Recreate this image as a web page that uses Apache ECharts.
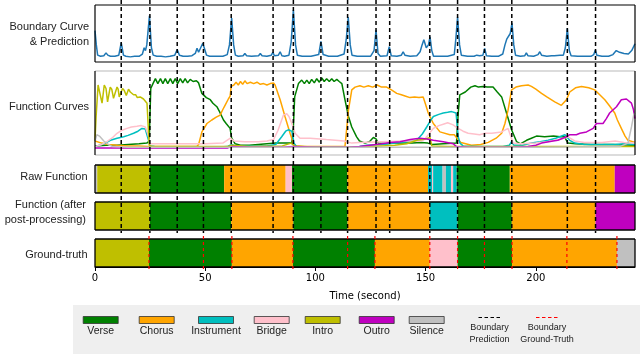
<!DOCTYPE html>
<html><head><meta charset="utf-8">
<script src="https://cdn.jsdelivr.net/npm/echarts/dist/echarts.min.js"></script>
<style>html,body{margin:0;padding:0;background:#fff}#c{width:640px;height:354px}</style>
</head><body><div id="c"></div>
<script>
// ---------------- DATA ----------------
const classNames = ['Verse','Chorus','Instrument','Bridge','Intro','Outro','Silence'];
const classColors = ['#008000','#FFA500','#00BFBF','#FFC0CB','#BFBF00','#BF00BF','#C0C0C0'];
const timeMax = 245;
const timeTicks = [0,50,100,150,200];

const boundaryCurve = [[0,0.55],[0.6,0.3],[1.2,0.12],[2.5,0.1],[4,0.11],[5,0.16],[5.8,0.12],[7,0.1],[9,0.1],[10.8,0.12],[11.9,0.34],[12.9,0.12],[14,0.1],[16,0.09],[18,0.1],[20,0.1],[21.5,0.14],[22.3,0.25],[22.9,0.2],[23.5,0.3],[24.7,0.81],[25.6,0.25],[26.4,0.12],[28,0.1],[30,0.1],[32,0.09],[34,0.1],[36.2,0.12],[37.3,0.22],[38.3,0.12],[40,0.1],[42,0.1],[44,0.11],[45.5,0.15],[46.3,0.24],[47,0.17],[47.8,0.2],[48.9,0.33],[49.8,0.22],[50.6,0.12],[52,0.1],[55,0.1],[58,0.1],[60,0.13],[61,0.3],[62,0.77],[62.9,0.3],[63.7,0.12],[65,0.1],[67.2,0.11],[68,0.15],[68.8,0.11],[71,0.1],[74.2,0.11],[75,0.15],[75.8,0.11],[78,0.1],[80,0.12],[80.7,0.17],[81.4,0.11],[83.2,0.12],[84,0.18],[84.8,0.11],[86,0.1],[88,0.12],[89,0.35],[90,0.91],[91,0.3],[91.8,0.12],[94,0.1],[98,0.1],[101.5,0.13],[102.5,0.36],[103.5,0.13],[106,0.1],[110,0.1],[113,0.14],[114,0.4],[114.9,0.79],[115.8,0.3],[116.6,0.12],[119,0.1],[122,0.1],[125,0.1],[126.6,0.2],[127.5,0.56],[128.4,0.15],[129.5,0.1],[132.5,0.11],[133.5,0.27],[134.4,0.11],[137,0.1],[139,0.12],[139.8,0.18],[140.6,0.12],[143,0.1],[146,0.11],[147.5,0.18],[148.4,0.3],[149.2,0.39],[150.3,0.25],[151.3,0.3],[152,0.44],[152.8,0.2],[153.6,0.1],[157,0.1],[160,0.1],[163,0.13],[163.7,0.4],[164.5,0.79],[165.4,0.3],[166.2,0.12],[169,0.1],[172,0.1],[173.2,0.12],[173.8,0.14],[174.5,0.11],[176,0.12],[176.8,0.24],[177.6,0.11],[180,0.1],[183,0.1],[185,0.14],[186,0.3],[186.8,0.4],[188.4,0.5],[189.2,0.68],[190,0.3],[190.8,0.12],[193,0.1],[195,0.11],[195.7,0.16],[196.4,0.11],[199,0.1],[201,0.13],[201.8,0.18],[202.6,0.12],[205,0.1],[207.2,0.11],[207.8,0.14],[208.4,0.11],[211,0.12],[211.6,0.15],[212.5,0.12],[213.4,0.25],[214.3,0.59],[215.2,0.2],[216,0.11],[219,0.1],[222,0.1],[225,0.1],[226.3,0.13],[227,0.21],[227.7,0.12],[230,0.1],[233,0.1],[235,0.13],[236.5,0.2],[238,0.17],[240,0.15],[242,0.14],[243.5,0.2],[245,0.32]];

const verseCurve = [[0,0.03],[5,0.04],[10,0.04],[15,0.05],[20,0.06],[23.5,0.07],[24.6,0.1],[25.3,0.85],[26.3,0.92],[27.4,0.99],[28.5,0.92],[29.7,0.99],[30.8,0.92],[31.9,0.99],[33,0.92],[34.2,0.99],[35.3,0.92],[36.4,0.99],[37.5,0.92],[38.7,0.99],[39.8,0.93],[40.9,0.99],[42,0.93],[43.2,0.98],[44.5,0.95],[46,0.96],[47,0.93],[48.5,0.78],[50.5,0.72],[52.3,0.69],[53.5,0.64],[55.3,0.59],[56.5,0.52],[58.3,0.4],[59.5,0.35],[61.3,0.28],[62,0.14],[63.6,0.06],[66,0.04],[70,0.04],[74,0.05],[78,0.06],[82,0.07],[86,0.07],[89.3,0.07],[90,0.3],[90.6,0.73],[92.3,0.92],[93.8,0.97],[95,0.92],[96.1,0.97],[97.2,0.92],[98.3,0.98],[99.5,0.93],[100.6,0.99],[101.8,0.94],[102.9,1.0],[104,0.95],[105.1,0.99],[106.3,0.95],[107.4,0.99],[108.5,0.95],[109.7,0.98],[110.8,0.95],[112,0.92],[113.4,0.69],[115,0.45],[116.5,0.3],[118.7,0.16],[120,0.1],[122.5,0.07],[124.5,0.09],[126.3,0.15],[127.5,0.13],[128.5,0.07],[132,0.06],[136,0.07],[140,0.07],[144,0.07],[148,0.08],[151,0.07],[153,0.05],[158,0.06],[164,0.07],[164.8,0.5],[165.5,0.76],[168,0.8],[170.5,0.87],[172.4,0.89],[174,0.87],[176,0.88],[178,0.87],[180.6,0.87],[182.5,0.8],[184.5,0.73],[186.7,0.5],[189,0.26],[191.3,0.09],[193,0.06],[195.8,0.11],[198,0.14],[200.3,0.17],[204,0.16],[208,0.17],[211,0.16],[213,0.16],[214.6,0.07],[218,0.06],[225,0.05],[235,0.05],[245,0.04]];

const chorusCurve = [[0,0.1],[3,0.07],[6,0.05],[10,0.04],[15,0.03],[20,0.03],[24,0.02],[30,0.02],[40,0.02],[46.2,0.02],[47,0.05],[48.5,0.23],[50.8,0.35],[53,0.4],[55,0.44],[56.8,0.47],[58,0.55],[59,0.61],[60.5,0.7],[61.3,0.74],[61.8,0.88],[63,0.9],[64,0.94],[65,0.9],[66,0.95],[67,0.91],[68,0.96],[69,0.92],[70.5,0.94],[72,0.92],[73.5,0.94],[75,0.91],[76.5,0.92],[78,0.9],[79.5,0.92],[81,0.93],[81.7,0.9],[84,0.69],[86.2,0.45],[88.5,0.21],[90,0.07],[91,0.03],[95,0.02],[100,0.02],[105,0.02],[110,0.02],[113.4,0.02],[115,0.54],[116.5,0.83],[118,0.87],[120.2,0.89],[122,0.87],[124,0.89],[126,0.87],[128,0.9],[130,0.87],[132.3,0.87],[134.5,0.83],[136.9,0.78],[139,0.76],[141,0.74],[142.9,0.72],[145,0.73],[147,0.72],[148.9,0.73],[150,0.62],[151.2,0.5],[153.5,0.35],[156.5,0.23],[161,0.19],[163,0.19],[164.5,0.13],[166,0.08],[170.8,0.04],[175,0.05],[178.4,0.08],[182,0.14],[184.5,0.21],[186,0.35],[187.4,0.54],[189,0.83],[191,0.87],[193.5,0.89],[196.5,0.9],[198,0.88],[200,0.84],[202.6,0.78],[205,0.73],[208.6,0.66],[211.6,0.61],[213.9,0.69],[215.4,0.8],[218,0.86],[220.7,0.88],[224,0.86],[226.7,0.83],[229,0.76],[231.3,0.69],[233.5,0.6],[235.8,0.5],[237,0.4],[238.8,0.28],[240.5,0.17],[241.8,0.11],[245,0.08]];

const instrumentCurve = [[0,0.02],[2,0.04],[4,0.06],[7,0.11],[10,0.14],[13,0.16],[15,0.18],[17.5,0.21],[19.5,0.24],[21.3,0.28],[22.8,0.27],[24.3,0.11],[25,0.03],[27,0.02],[35,0.01],[45,0.01],[55,0.01],[60,0.02],[62,0.05],[63.5,0.03],[70,0.03],[78,0.03],[82,0.05],[84.7,0.16],[86.5,0.24],[87.7,0.26],[89.3,0.24],[90.3,0.07],[91.5,0.02],[100,0.01],[110,0.01],[116,0.01],[120,0.02],[123.3,0.04],[130,0.05],[136,0.07],[141,0.09],[146,0.11],[148.5,0.2],[150.5,0.3],[152,0.38],[153.5,0.45],[156,0.48],[158,0.5],[160,0.51],[161.8,0.52],[163.8,0.5],[164.8,0.16],[165.6,0.07],[167,0.03],[175,0.02],[185,0.02],[188,0.04],[189,0.09],[190,0.04],[194,0.04],[198,0.07],[202,0.09],[205.6,0.11],[209,0.14],[213.2,0.19],[215.4,0.11],[217.7,0.07],[222,0.05],[230,0.05],[236,0.05],[240,0.06],[245,0.05]];

const bridgeCurve = [[0,0.02],[3,0.05],[5.4,0.09],[8,0.15],[10,0.21],[12,0.25],[14.5,0.28],[16.5,0.3],[19,0.31],[21,0.32],[22.8,0.3],[24,0.2],[25,0.06],[30,0.06],[40,0.06],[50,0.06],[58,0.07],[61.4,0.14],[63,0.1],[68,0.09],[74,0.09],[78,0.1],[81,0.12],[83,0.25],[85.5,0.47],[87,0.49],[88,0.45],[89.3,0.35],[90.8,0.21],[93,0.14],[97.6,0.14],[105,0.12],[113,0.1],[116.5,0.07],[120,0.08],[130,0.09],[140,0.1],[147,0.1],[149,0.11],[151,0.18],[153.5,0.28],[156,0.32],[158,0.34],[160,0.36],[162.5,0.33],[163.8,0.3],[164.8,0.28],[167,0.24],[169.3,0.21],[172,0.2],[174.5,0.19],[176.9,0.21],[180,0.21],[184.5,0.23],[187.4,0.28],[189.7,0.07],[193,0.06],[200,0.07],[205,0.09],[208.6,0.11],[212,0.13],[214.6,0.16],[217.7,0.1],[222,0.08],[230,0.08],[236,0.1],[240,0.08],[245,0.07]];

const introCurve = [[0,0.1],[0.5,0.45],[0.9,0.47],[1.4,0.9],[2.2,0.88],[3.2,0.64],[4.2,0.9],[5,0.85],[5.7,0.66],[6.9,0.87],[7.6,0.84],[8.4,0.71],[10,0.87],[10.5,0.84],[11,0.73],[12.5,0.85],[13.3,0.82],[14.2,0.75],[15.2,0.84],[16,0.8],[16.8,0.78],[17.5,0.76],[18.5,0.76],[19.2,0.72],[20.5,0.73],[22,0.7],[23.6,0.64],[24.6,0.04],[26,0.02],[40,0.02],[60,0.02],[62,0.04],[70,0.02],[85,0.03],[89,0.07],[90.5,0.03],[100,0.01],[115,0.01],[125,0.02],[130,0.03],[136,0.04],[141.4,0.06],[146,0.11],[150,0.13],[152,0.15],[152.8,0.03],[160,0.02],[170,0.02],[190,0.02],[210,0.02],[230,0.02],[245,0.02]];

const outroCurve = [[0,0.0],[20,0.0],[40,0.0],[60,0.0],[62,0.02],[70,0.01],[85,0.01],[90,0.02],[100,0.01],[115,0.01],[120,0.02],[124.8,0.04],[130,0.06],[134,0.08],[138.4,0.09],[143,0.12],[147.4,0.14],[150.5,0.13],[153.5,0.11],[158,0.09],[162.5,0.06],[164,0.02],[170,0.01],[180,0.01],[190,0.01],[196.5,0.02],[200,0.04],[202.6,0.07],[207.8,0.1],[210,0.11],[213.9,0.16],[215.4,0.19],[218.4,0.19],[220,0.21],[223,0.23],[226,0.28],[227.5,0.35],[230.5,0.35],[232,0.42],[233.5,0.5],[236.6,0.59],[238.8,0.69],[241.1,0.7],[243.4,0.64],[244.3,0.55],[245,0.42]];

const silenceCurve = [[0,0.1],[0.8,0.19],[2,0.17],[4,0.1],[6,0.05],[8,0.02],[15,0.01],[50,0.01],[100,0.01],[150,0.01],[200,0.01],[238,0.02],[241.8,0.07],[243.4,0.3],[244.4,0.47],[245,0.5]];

// segments: [start, end, classIndex]
const rawSegments = [[0,1.0,6],[1.0,24.8,4],[24.8,58.6,0],[58.6,86.5,1],[86.5,89.4,3],[89.4,114.5,0],[114.5,151.1,1],[151.1,152.9,2],[152.9,153.4,3],[153.4,157.7,2],[157.7,159.2,6],[159.2,161.5,2],[161.5,162.5,3],[162.5,164.1,2],[164.1,188.2,0],[188.2,235.8,1],[235.8,245,5]];
const postSegments = [[0,24.9,4],[24.9,61.8,0],[61.8,90,1],[90,114.6,0],[114.6,151.9,1],[151.9,164.5,2],[164.5,189.1,0],[189.1,227.1,1],[227.1,245,5]];
const truthSegments = [[0,24.5,4],[24.5,62.1,0],[62.1,89.8,1],[89.8,127,0],[127,151.9,1],[151.9,164.5,3],[164.5,189.2,0],[189.2,236.8,1],[236.8,245,6]];

const predictedBoundaries = [11.9,24.9,37.3,49.2,61.8,80.8,90,102.5,114.6,127.5,133.7,151.9,164.5,176.7,189.1,214.3,227.1];
const truthBoundaries = [24.5,49.2,62.1,89.8,114.6,127,151.9,164.5,176.7,189.2,214.1,236.8];

const panelLabels = [['Boundary Curve','& Prediction'],['Function Curves'],['Raw Function'],['Function (after','post-processing)'],['Ground-truth']];

// ---------------- LAYOUT ----------------
const L = 95, R = 5;
const grids = [
  {left:L,right:R,top:5,height:57},
  {left:L,right:R,top:71,height:84},
  {left:L,right:R,top:165,height:28},
  {left:L,right:R,top:202,height:28},
  {left:L,right:R,top:239,height:28},
  {left:L,right:R,top:0,height:233},
  {left:L,right:R,top:236,height:36}
];
const yRanges = [[0,1],[-0.1,1.1],[0,1],[0,1],[0,1],[0,1],[0,1]];

const xAxes = grids.map((g,i)=>({
  type:'value', gridIndex:i, min:0, max:timeMax, show: i===4,
  interval:50,
  axisLine:{show:true,lineStyle:{color:'#000',width:1}},
  axisTick:{show:true,length:4,lineStyle:{color:'#000'},customValues: timeTicks},
  axisLabel:{show:true,fontFamily:'DejaVu Sans',fontSize:10,color:'#000',margin:6,customValues: timeTicks},
  splitLine:{show:false},
  name: i===4 ? 'Time (second)' : '',
  nameLocation:'middle', nameGap:24,
  nameTextStyle:{fontFamily:'DejaVu Sans',fontSize:10,color:'#000'}
}));
const yAxes = grids.map((g,i)=>({type:'value',gridIndex:i,min:yRanges[i][0],max:yRanges[i][1],show:false}));

function segRender(params, api){
  const cs = params.coordSys;
  const x0 = api.coord([api.value(0),0.5])[0];
  const x1 = api.coord([api.value(1),0.5])[0];
  return {type:'rect',shape:{x:x0,y:cs.y,width:x1-x0,height:cs.height},style:{fill:classColors[api.value(2)]}};
}
function frameRender(sides){
  return function(params, api){
    const cs = params.coordSys;
    const x0=cs.x, y0=cs.y, x1=cs.x+cs.width, y1=cs.y+cs.height;
    const lines = {top:[x0,y0,x1,y0],bottom:[x0,y1,x1,y1],left:[x0,y0,x0,y1],right:[x1,y0,x1,y1]};
    return {type:'group',children:Object.keys(sides).map(k=>({
      type:'line',shape:{x1:lines[k][0],y1:lines[k][1],x2:lines[k][2],y2:lines[k][3]},
      style:{stroke:sides[k][0],lineWidth:sides[k][1]}
    }))};
  };
}
function vlineRender(color, dash, width){
  return function(params, api){
    const cs = params.coordSys;
    const x = api.coord([api.value(0),0.5])[0];
    return {type:'line',shape:{x1:x,y1:cs.y,x2:x,y2:cs.y+cs.height},style:{stroke:color,lineWidth:width,lineDash:dash}};
  };
}

const series = [];
series.push({type:'line',xAxisIndex:0,yAxisIndex:0,data:boundaryCurve,showSymbol:false,
  lineStyle:{color:'#1f77b4',width:1.5},itemStyle:{color:'#1f77b4'},z:3});
const curves = [verseCurve,chorusCurve,instrumentCurve,bridgeCurve,introCurve,outroCurve,silenceCurve];
curves.forEach((c,i)=>series.push({type:'line',xAxisIndex:1,yAxisIndex:1,data:c,showSymbol:false,
  lineStyle:{color:classColors[i],width:1.5},itemStyle:{color:classColors[i]},z:3+i*0.01}));
[rawSegments,postSegments,truthSegments].forEach((s,i)=>series.push({type:'custom',xAxisIndex:2+i,yAxisIndex:2+i,
  data:s,renderItem:segRender,encode:{x:[0,1]},z:2}));
const blk='#000', lg='#dcdcdc';
const frames = [
  {top:['#7f7f7f',2],bottom:[blk,1.2],left:[blk,1.2],right:[blk,1.2]},
  {top:[lg,2],bottom:[lg,2],left:[blk,1.2],right:[blk,1.2]},
  {top:[blk,1.3],bottom:[blk,1.3],left:[blk,1.3],right:[blk,1.3]},
  {top:[blk,1.3],bottom:[blk,1.3],left:[blk,1.3],right:[blk,1.3]},
  {top:[blk,1.3],bottom:[blk,1.3],left:[blk,1.3],right:[blk,1.3]}
];
frames.forEach((f,i)=>series.push({type:'custom',xAxisIndex:i,yAxisIndex:i,data:[[0,0.5]],renderItem:frameRender(f),z:6}));
series.push({type:'custom',xAxisIndex:5,yAxisIndex:5,data:predictedBoundaries.map(t=>[t,0.5]),
  renderItem:vlineRender('#000',[4,3],1.5),z:10});
series.push({type:'custom',xAxisIndex:6,yAxisIndex:6,data:truthBoundaries.map(t=>[t,0.5]),
  renderItem:vlineRender('#ff0000',[3,3],1.2),z:10});

// graphics: panel labels + legend
const graphic = [];
const labelPos = [[89,[27,41.5]],[89,[107]],[87.5,[177]],[86,[204.5,220]],[87.5,[254.5]]];
panelLabels.forEach((lines,i)=>{
  lines.forEach((t,j)=>graphic.push({type:'text',x:labelPos[i][0],y:labelPos[i][1][j],
    style:{text:t,fill:'#222',font:'11px "Liberation Sans"',textAlign:'right',textVerticalAlign:'middle'}}));
});
graphic.push({type:'rect',shape:{x:73,y:305,width:570,height:52},style:{fill:'#efefef'},z:-1});
const legendX = [100.7,156.7,216,271.7,322.7,376.7,426.7];
classNames.forEach((n,i)=>{
  graphic.push({type:'rect',shape:{x:legendX[i]-17.5,y:316.5,width:35,height:7},
    style:{fill:classColors[i],stroke:'#333',lineWidth:0.8}});
  graphic.push({type:'text',x:legendX[i],y:331.5,style:{text:n,fill:'#222',font:'10.5px "Liberation Sans"',textAlign:'center',textVerticalAlign:'middle'}});
});
[[489.5,'#000',['Boundary','Prediction']],[547,'#ff0000',['Boundary','Ground-Truth']]].forEach(([cx,col,txt])=>{
  graphic.push({type:'line',shape:{x1:cx-11,y1:317.5,x2:cx+12,y2:317.5},style:{stroke:col,lineWidth:1.2,lineDash:[3.5,2.5]}});
  graphic.push({type:'text',x:cx,y:327.5,style:{text:txt[0],fill:'#222',font:'9px "Liberation Sans"',textAlign:'center',textVerticalAlign:'middle'}});
  graphic.push({type:'text',x:cx,y:339.5,style:{text:txt[1],fill:'#222',font:'9px "Liberation Sans"',textAlign:'center',textVerticalAlign:'middle'}});
});

const chart = echarts.init(document.getElementById('c'), null, {renderer:'canvas'});
chart.setOption({animation:false,backgroundColor:'#fff',grid:grids,xAxis:xAxes,yAxis:yAxes,series:series,graphic:graphic});
</script></body></html>
